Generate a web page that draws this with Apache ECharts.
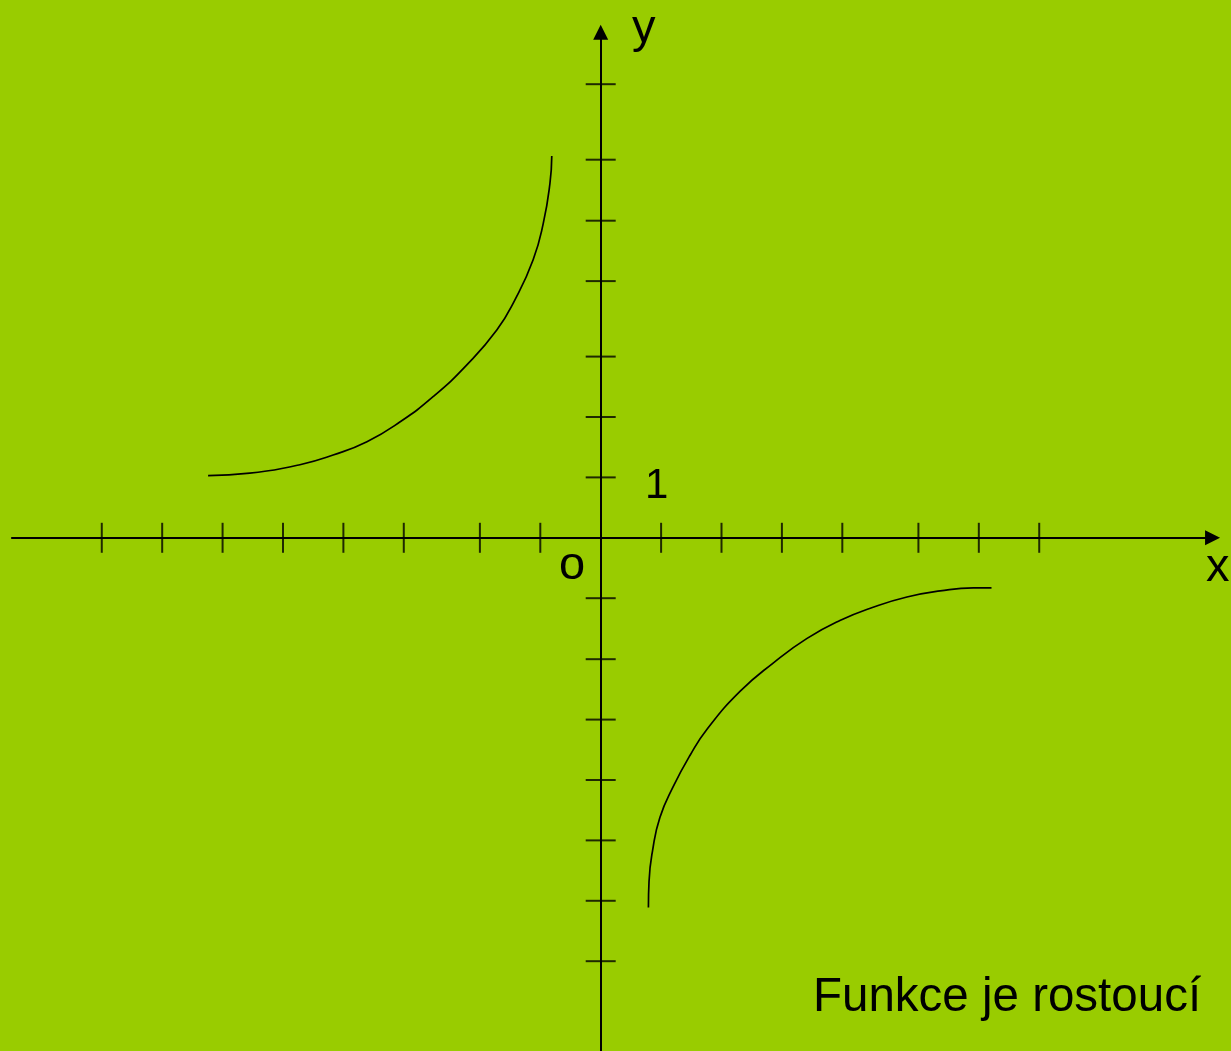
<!DOCTYPE html>
<html>
<head>
<meta charset="utf-8">
<title>Funkce je rostoucí</title>
<script src="https://cdn.jsdelivr.net/npm/echarts@6/dist/echarts.min.js"></script>
<style>
  html, body { margin: 0; padding: 0; background: #99cc00; }
  #main { width: 1231px; height: 1051px; }
</style>
</head>
<body>
<div id="main"></div>
<script>
// ticks on the x axis (hand drawn, not quite even)
var xTicks = [-8.26, -7.26, -6.26, -5.26, -4.26, -3.26, -2.0, -1.0, 1.0, 2.0, 3.0, 4.0, 5.26, 6.26, 7.26]
// ticks on the y axis
var yTicks = [7.51, 6.26, 5.25, 4.25, 3.0, 2.0, 1.0, -1.0, -2.01, -3.01, -4.01, -5.01, -6.01, -7.01]

// left branch (2nd quadrant)
var curveLeft = [
  [-6.50, 1.03], [-5.81, 1.07], [-4.98, 1.21], [-4.43, 1.37], [-3.87, 1.59],
  [-3.32, 1.92], [-2.77, 2.34], [-2.22, 2.86], [-1.72, 3.44], [-1.42, 3.94],
  [-1.12, 4.60], [-0.95, 5.21], [-0.84, 5.87], [-0.81, 6.32]
]
// right branch (4th quadrant)
var curveRight = [
  [0.79, -6.12], [0.80, -5.69], [0.86, -5.17], [0.98, -4.63], [1.20, -4.12],
  [1.48, -3.60], [1.76, -3.17], [2.31, -2.54], [2.86, -2.07], [3.41, -1.67],
  [3.96, -1.37], [4.51, -1.15], [5.07, -0.98], [5.62, -0.88], [6.17, -0.83], [6.47, -0.83]
]

// visible range and axis arrows
var xRange = [-9.945, 10.435]
var yRange = [-8.497, 8.904]
var xAxisLine = [-9.76, 10.13]
var yAxisLine = [-8.497, 8.37]

var chart = echarts.init(document.getElementById('main'), null, { renderer: 'canvas' })

var textFont = '"Liberation Sans", Arial, sans-serif'

var option = {
  backgroundColor: '#99cc00',
  animation: false,
  grid: { left: 0, right: 0, top: 0, bottom: 0 },
  xAxis: { type: 'value', min: xRange[0], max: xRange[1], show: false },
  yAxis: { type: 'value', min: yRange[0], max: yRange[1], show: false },
  series: [
    {
      // osy
      type: 'scatter',
      data: [],
      silent: true,
      markLine: {
        silent: true,
        symbol: ['none', 'triangle'],
        symbolSize: [15, 15],
        label: { show: false },
        lineStyle: { color: '#000', width: 2, type: 'solid' },
        itemStyle: { color: '#000' },
        emphasis: { disabled: true },
        data: [
          [{ coord: [xAxisLine[0], 0] }, { coord: [xAxisLine[1], 0] }],
          [{ coord: [0, yAxisLine[0]] }, { coord: [0, yAxisLine[1]] }]
        ]
      }
    },
    {
      // x ticks
      type: 'scatter',
      silent: true,
      symbol: 'rect',
      symbolSize: [2, 30],
      itemStyle: { color: '#000' },
      data: xTicks.map(function (v) { return [v, 0] })
    },
    {
      // y ticks
      type: 'scatter',
      silent: true,
      symbol: 'rect',
      symbolSize: [30, 2],
      itemStyle: { color: '#000' },
      data: yTicks.map(function (v) { return [0, v] })
    },
    {
      type: 'line',
      data: curveLeft,
      smooth: 0.5,
      showSymbol: false,
      silent: true,
      lineStyle: { color: '#000', width: 1.7 }
    },
    {
      type: 'line',
      data: curveRight,
      smooth: 0.5,
      showSymbol: false,
      silent: true,
      lineStyle: { color: '#000', width: 1.7 }
    }
  ],
  graphic: [
    { type: 'text', x: 632, y: 29, style: { text: 'y', font: '47px ' + textFont, fill: '#000', align: 'left', verticalAlign: 'middle' } },
    { type: 'text', x: 1206, y: 568, style: { text: 'x', font: '47px ' + textFont, fill: '#000', align: 'left', verticalAlign: 'middle' } },
    { type: 'text', x: 559, y: 566, style: { text: 'o', font: '47px ' + textFont, fill: '#000', align: 'left', verticalAlign: 'middle' } },
    { type: 'text', x: 645, y: 486, style: { text: '1', font: '42px ' + textFont, fill: '#000', align: 'left', verticalAlign: 'middle' } },
    { type: 'text', x: 813, y: 998, style: { text: 'Funkce je rostoucí', font: '47.5px ' + textFont, fill: '#000', align: 'left', verticalAlign: 'middle' } }
  ]
}

chart.setOption(option)
</script>
</body>
</html>
